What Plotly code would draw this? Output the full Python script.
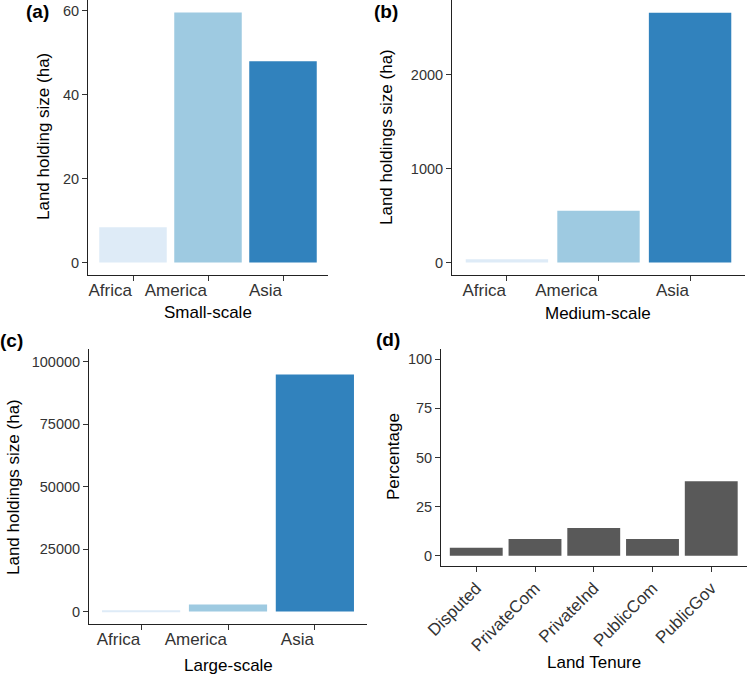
import plotly.graph_objects as go

W, H = 750, 674

regions = ["Africa", "America", "Asia"]
region_colors = ["#deebf7", "#9ecae1", "#3182bd"]
small_scale = [8.4, 59.6, 48.0]
medium_scale = [35, 552, 2662]
large_scale = [300, 2800, 94900]

tenure = ["Disputed", "PrivateCom", "PrivateInd", "PublicCom", "PublicGov"]
tenure_pct = [4.1, 8.6, 14.2, 8.6, 37.9]

FONT = "Liberation Sans, Arial, sans-serif"
TICKCOL = "#333333"

def px_x(p):
    return p / W

def px_y(p):
    return 1 - p / H

fig = go.Figure()

fig.add_trace(go.Bar(x=regions, y=small_scale, marker=dict(color=region_colors, line=dict(width=0)),
                     width=0.9, xaxis="x", yaxis="y", showlegend=False))
fig.add_trace(go.Bar(x=regions, y=medium_scale, marker=dict(color=region_colors, line=dict(width=0)),
                     width=0.9, xaxis="x2", yaxis="y2", showlegend=False))
fig.add_trace(go.Bar(x=regions, y=large_scale, marker=dict(color=region_colors, line=dict(width=0)),
                     width=0.9, xaxis="x3", yaxis="y3", showlegend=False))
fig.add_trace(go.Bar(x=tenure, y=tenure_pct, marker=dict(color="#595959", line=dict(width=0)),
                     width=0.9, xaxis="x4", yaxis="y4", showlegend=False))

def xaxis(dom, anchor, rng, angle=0, pos="outside left"):
    d = dict(domain=[px_x(dom[0]), px_x(dom[1])], anchor=anchor, range=rng,
             showline=True, linecolor="#222222", linewidth=1, ticks="outside",
             ticklen=5, tickcolor=TICKCOL, tickwidth=1, showgrid=False, zeroline=False,
             tickfont=dict(family=FONT, size=17, color=TICKCOL), type="category",
             tickangle=angle, fixedrange=True, automargin=False)
    if pos:
        d["ticklabelposition"] = pos
    return d

def yaxis(dom, anchor, rng, tickvals):
    return dict(domain=[px_y(dom[1]), px_y(dom[0])], anchor=anchor, range=rng,
                showline=True, linecolor="#222222", linewidth=1, ticks="outside",
                ticklen=5, tickcolor=TICKCOL, tickwidth=1, showgrid=False, zeroline=False,
                tickfont=dict(family=FONT, size=14.5, color=TICKCOL), tickvals=tickvals,
                tickformat="d", fixedrange=True, automargin=False)

fig.update_layout(
    width=W, height=H, margin=dict(l=0, r=0, t=0, b=0, autoexpand=False),
    paper_bgcolor="white", plot_bgcolor="white",
    font=dict(family=FONT, color="black"),
    xaxis=xaxis((88, 328), "y", [-0.6, 2.6]),
    yaxis=yaxis((0, 275), "x", [-2.98, 62.58], [0, 20, 40, 60]),
    xaxis2=xaxis((452, 745), "y2", [-0.6, 2.6]),
    yaxis2=yaxis((0, 275), "x2", [-133, 2797], [0, 1000, 2000]),
    xaxis3=xaxis((89, 367), "y3", [-0.6, 2.6]),
    yaxis3=yaxis((349.3, 624), "x3", [-5000, 105000], [0, 25000, 50000, 75000, 100000]),
    xaxis4=xaxis((441, 746.5), "y4", [-0.6, 4.6], angle=-45, pos=None),
    yaxis4=yaxis((349.3, 565.7), "x4", [-5, 105], [0, 25, 50, 75, 100]),
)

ann = []
def text(x, y, s, size=17, bold=False, angle=0):
    ann.append(dict(x=px_x(x), y=px_y(y), xref="paper", yref="paper", text=f"<b>{s}</b>" if bold else s,
                    showarrow=False, textangle=angle, xanchor="center", yanchor="middle",
                    font=dict(family=FONT, size=size, color="black")))

# panel tags
text(37, 12, "(a)", size=19, bold=True)
text(386, 12, "(b)", size=19, bold=True)
text(11, 340, "(c)", size=19, bold=True)
text(388, 339, "(d)", size=19, bold=True)

# x titles
text(208, 312, "Small-scale")
text(598, 313, "Medium-scale")
text(228, 665, "Large-scale")
text(594, 662, "Land Tenure")

# y titles
text(44, 137, "Land holding size (ha)", angle=-90)
text(387, 137, "Land holdings size (ha)", angle=-90)
text(13, 487, "Land holdings size (ha)", angle=-90)
text(393, 457, "Percentage", angle=-90)

fig.update_layout(annotations=ann)

fig.write_html("out.html", config={"displayModeBar": False},
               post_script="document.body.style.margin='0';document.body.style.overflow='hidden';")
